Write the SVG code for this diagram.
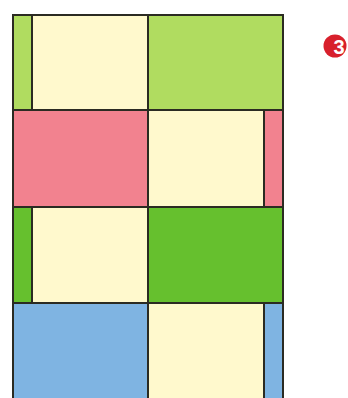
<svg xmlns="http://www.w3.org/2000/svg" width="348" height="398" viewBox="0 0 348 398">
<style>
.c{stroke:#2b2b22;stroke-width:2}
.lg{fill:#b0dc60}.cr{fill:#fff9cd}.pk{fill:#f2828f}.dg{fill:#66c02e}.bl{fill:#7fb4e2}
</style>
<rect width="348" height="398" fill="#ffffff"/>
<g id="row1">
<rect class="c lg" x="13" y="15" width="19" height="95"/>
<rect class="c cr" x="32" y="15" width="116" height="95"/>
<rect class="c lg" x="148" y="15" width="135" height="95"/>
</g>
<g id="row2">
<rect class="c pk" x="13" y="110" width="135" height="97"/>
<rect class="c cr" x="148" y="110" width="116" height="97"/>
<rect class="c pk" x="264" y="110" width="19" height="97"/>
</g>
<g id="row3">
<rect class="c dg" x="13" y="207" width="19" height="96"/>
<rect class="c cr" x="32" y="207" width="116" height="96"/>
<rect class="c dg" x="148" y="207" width="135" height="96"/>
</g>
<g id="row4">
<rect class="c bl" x="13" y="303" width="135" height="100"/>
<rect class="c cr" x="148" y="303" width="116" height="100"/>
<rect class="c bl" x="264" y="303" width="19" height="100"/>
</g>
<g id="badge">
<circle cx="335" cy="46" r="11.5" fill="#d8202c"/>
<text x="339" y="53.5" font-family="Liberation Sans, Arial, sans-serif" font-size="20" font-weight="bold" fill="#ffffff" text-anchor="middle">3</text>
</g>
</svg>
